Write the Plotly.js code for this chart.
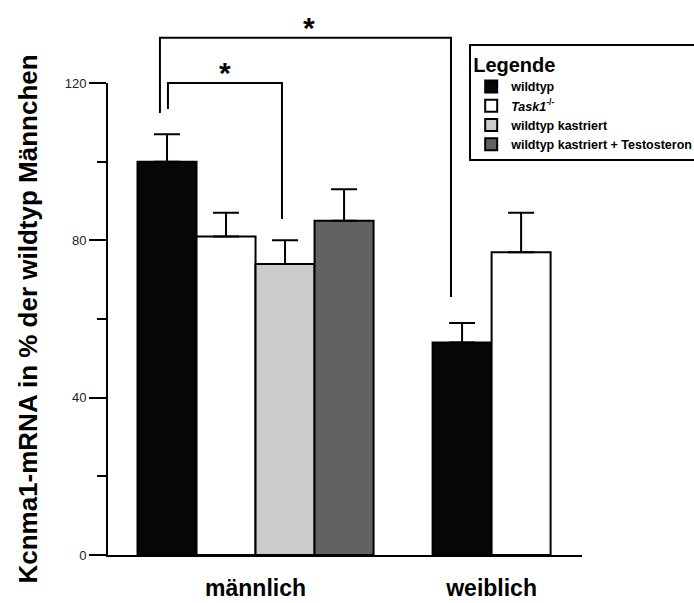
<!DOCTYPE html>
<html>
<head>
<meta charset="utf-8">
<script src="https://cdn.plot.ly/plotly-3.0.1.min.js"></script>
<style>html,body{margin:0;padding:0;background:#fff;}#chart{width:694px;height:603px;}</style>
</head>
<body>
<div id="chart"></div>
<script>
// ---- data ----
const categories = ['männlich', 'weiblich'];
const seriesNames = ['wildtyp', '<i>Task1</i><sup>-/-</sup>', 'wildtyp kastriert', 'wildtyp kastriert + Testosteron'];
const seriesCats = [['männlich', 'weiblich'], ['männlich', 'weiblich'], ['männlich'], ['männlich']];
const seriesValues = [[100, 54], [81, 77], [74], [85]];
const seriesErrors = [[7, 5], [6, 10], [6], [8]];
const yTickVals = [0, 40, 80, 120];
const yTickText = ['0', '40', '80', '120'];
// significance brackets (x in category units, y in axis units)
const bracketX0 = [-0.405, -0.371];
const bracketX1 = [0.828, 0.112];
const bracketTop = [131.5, 120];
const bracketLeftEnd = [112.4, 113.4];
const bracketRightEnd = [65.6, 85.4];
const bracketLabel = ['*', '*'];

// ---- styles ----
const colors = ['#060606', '#ffffff', '#cacbca', '#626262'];
const barW = 0.25;
// left-edge offsets per point (male group of 4, female group of 2 centered)
const offsets = [[-0.5, -0.25], [-0.25, 0], [0], [0.25]];
const yMax = 120;
const FONT = 'Liberation Sans, Arial, Helvetica, sans-serif';

const traces = seriesNames.map((name, i) => ({
  type: 'bar',
  name: name,
  x: seriesCats[i],
  y: seriesValues[i],
  width: seriesCats[i].map(() => barW),
  offset: offsets[i],
  marker: { color: colors[i], line: { color: '#000', width: 2 } },
  error_y: {
    type: 'data', symmetric: false,
    array: seriesErrors[i],
    arrayminus: seriesErrors[i].map(() => 0),
    color: '#000', thickness: 2, width: 13
  },
  hoverinfo: 'skip'
}));

const shapes = [];
const annotations = [];
const toPaper = v => v / yMax;
const starShift = [-11, -8];
for (let k = 0; k < bracketX0.length; k++) {
  const line = { color: '#000', width: 2 };
  shapes.push({ type: 'path', xref: 'x', yref: 'paper',
    path: 'M ' + bracketX0[k] + ',' + toPaper(bracketLeftEnd[k]) +
          ' L ' + bracketX0[k] + ',' + toPaper(bracketTop[k]) +
          ' L ' + bracketX1[k] + ',' + toPaper(bracketTop[k]) +
          ' L ' + bracketX1[k] + ',' + toPaper(bracketRightEnd[k]),
    line: line });
  annotations.push({ xref: 'x', yref: 'paper', x: (bracketX0[k] + bracketX1[k]) / 2,
    y: toPaper(bracketTop[k]), yanchor: 'bottom', yshift: starShift[k] + (k === 0 ? 3 : 0), xshift: k === 0 ? 4 : 0, showarrow: false,
    text: bracketLabel[k], font: { family: FONT, size: 30, color: '#000', weight: 'bold' } });
}

const layout = {
  width: 694, height: 603,
  margin: { l: 108, r: 112, t: 83, b: 48, autoexpand: false },
  paper_bgcolor: '#fff', plot_bgcolor: '#fff',
  barmode: 'overlay',
  showlegend: true,
  legend: {
    x: 0.762, y: 1.083, xanchor: 'left', yanchor: 'top',
    bgcolor: '#fff', bordercolor: '#000', borderwidth: 2,
    font: { family: FONT, size: 12.5, color: '#000', weight: 'bold' },
    title: { text: 'Legende', font: { family: FONT, size: 20, color: '#000', weight: 'bold' } },
    traceorder: 'normal', itemclick: false, itemdoubleclick: false,
    tracegroupgap: 0
  },
  xaxis: {
    type: 'category', range: [-0.625, 1.383],
    showline: true, linecolor: '#000', linewidth: 2,
    ticks: '', showgrid: false, zeroline: false,
    tickfont: { family: FONT, size: 23, color: '#000', weight: 'bold' },
    ticklabelstandoff: 11
  },
  yaxis: {
    range: [0, yMax], showline: true, linecolor: '#000', linewidth: 2,
    tickmode: 'array', tickvals: yTickVals, ticktext: yTickText,
    ticks: 'outside', ticklen: 17, tickwidth: 2, tickcolor: '#000',
    minor: { dtick: 20, tick0: 0, ticks: 'outside', ticklen: 9, tickwidth: 2, tickcolor: '#000', showgrid: false },
    showgrid: false, zeroline: false,
    tickfont: { family: FONT, size: 13, color: '#222' },
    title: { text: 'Kcnma1-mRNA in % der wildtyp Männchen', standoff: 20,
      font: { family: FONT, size: 26, color: '#000', weight: 'bold' } }
  },
  shapes: shapes,
  annotations: annotations
};

Plotly.newPlot('chart', traces, layout, { staticPlot: true, displayModeBar: false });
</script>
</body>
</html>
